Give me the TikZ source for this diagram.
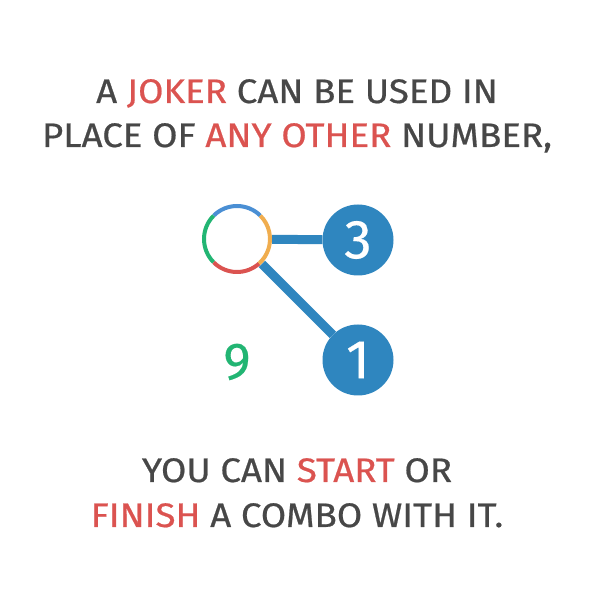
\documentclass[tikz,border=0pt]{standalone}
\usepackage{fontspec}
\setmainfont{Fira Sans}[FakeStretch=1.08, FakeBold=0.6]
\newfontfamily\numfont{Fira Sans}[FakeBold=0.3]
\usetikzlibrary{backgrounds}
\definecolor{txtgray}{HTML}{474747}
\definecolor{hired}{HTML}{DB5350}
\definecolor{nodeblue}{HTML}{2F86BF}
\definecolor{jblue}{HTML}{4A8FD4}
\definecolor{jorange}{HTML}{F0AD4E}
\definecolor{jred}{HTML}{DB5350}
\definecolor{jgreen}{HTML}{22B573}
\begin{document}
\begin{tikzpicture}[x=1pt,y=1pt,
  caption/.style={anchor=base, text=txtgray, font=\fontsize{34}{40}\selectfont, inner sep=0},
  numnode/.style={circle, fill=nodeblue, minimum size=71pt, inner sep=0, text=white, font=\numfont\fontsize{55}{56}\selectfont},
  link/.style={draw=nodeblue, line width=9pt},
  ring/.style={line width=4pt}]
\useasboundingbox (0,0) rectangle (594,598);
\node[caption] (l1) at (297,495) {A \textcolor{hired}{JOKER} CAN BE USED IN};
\node[caption] (l2) at (297,451) {PLACE OF \textcolor{hired}{ANY OTHER} NUMBER,};
\node[caption] (l3) at (297,116) {YOU CAN \textcolor{hired}{START} OR};
\node[caption] (l4) at (297,71) {\textcolor{hired}{FINISH} A COMBO WITH IT.};
\node[circle, minimum size=70pt, inner sep=0] (joker) at (237,359) {};
\node[numnode] (n3) at (358,358) {3};
\node[numnode] (n1) at (358,238) {1};
\node[text=jgreen, font=\numfont\fontsize{52}{54}\selectfont, inner sep=0] (nine) at (237,236) {9};
\begin{scope}[on background layer]
\fill[white] (0,0) rectangle (594,598);
\draw[link] (joker) -- (n3);
\draw[link] (joker) -- (n1);
\end{scope}
\draw[ring, jblue] ([shift={(45:33)}]joker.center) arc[start angle=45, end angle=135, radius=33];
\draw[ring, jgreen] ([shift={(135:33)}]joker.center) arc[start angle=135, end angle=225, radius=33];
\draw[ring, jred] ([shift={(225:33)}]joker.center) arc[start angle=225, end angle=312, radius=33];
\draw[ring, jorange] ([shift={(312:33)}]joker.center) arc[start angle=312, end angle=405, radius=33];
\end{tikzpicture}
\end{document}
